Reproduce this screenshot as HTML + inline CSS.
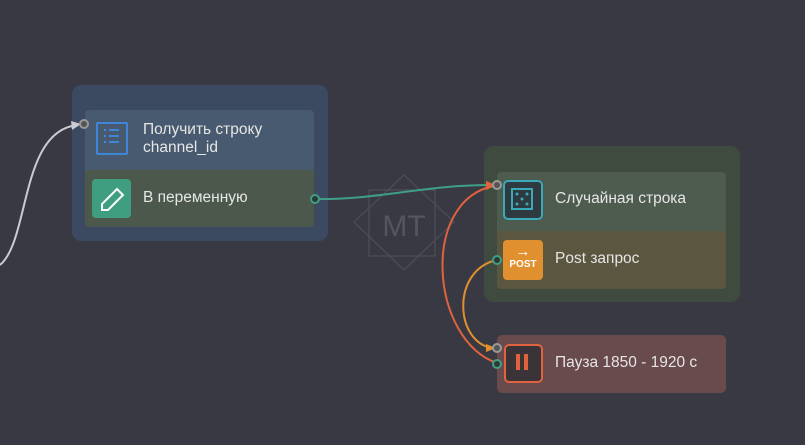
<!DOCTYPE html>
<html><head><meta charset="utf-8"><style>
body{margin:0;width:805px;height:445px;background:#393943;overflow:hidden;position:relative;font-family:"Liberation Sans","DejaVu Sans",sans-serif;}
.a{position:absolute;}
.t{position:absolute;color:#e6e6e6;font-size:15.5px;line-height:18px;}
</style></head><body>
<div class="a" style="left:72px;top:85px;width:256px;height:156px;background:#3b4a61;border-radius:9px;"></div>
<div class="a" style="left:85px;top:110px;width:229px;height:60px;background:#485a6f;border-radius:4px 4px 0 0;"></div>
<div class="a" style="left:85px;top:170px;width:229px;height:57px;background:#4c584c;border-radius:0 0 4px 4px;"></div>
<div class="a" style="left:96px;top:122px;width:28px;height:29px;border:2px solid #3f86d8;border-radius:2px;"></div>
<div class="a" style="left:92px;top:179px;width:39px;height:39px;background:#3f9e80;border-radius:4px;"></div>
<div class="t" style="left:143px;top:121px;">Получить строку<br>channel_id</div>
<div class="t" style="left:143px;top:189px;">В переменную</div>

<div class="a" style="left:484px;top:146px;width:256px;height:156px;background:#3f4b3e;border-radius:9px;"></div>
<div class="a" style="left:497px;top:172px;width:229px;height:59px;background:#4e5c50;border-radius:4px 4px 0 0;"></div>
<div class="a" style="left:497px;top:231px;width:229px;height:58px;background:#5b5640;border-radius:0 0 4px 4px;"></div>
<div class="a" style="left:503px;top:180px;width:36px;height:36px;border:2px solid #3aa9b8;background:#2f3a40;border-radius:5px;"></div>
<div class="a" style="left:503px;top:240px;width:40px;height:40px;background:#e0902e;border-radius:4px;color:#fff;font-size:10px;font-weight:bold;text-align:center;line-height:12px;"><div style="font-size:15px;margin-top:5px;line-height:14px;">→</div>POST</div>
<div class="t" style="left:555px;top:190px;">Случайная строка</div>
<div class="t" style="left:555px;top:250px;">Post запрос</div>

<div class="a" style="left:497px;top:335px;width:229px;height:58px;background:#694a4d;border-radius:5px;"></div>
<div class="a" style="left:504px;top:344px;width:35px;height:35px;border:2px solid #e0633e;background:#3a3438;border-radius:5px;"></div>
<div class="a" style="left:516px;top:354px;width:4px;height:16px;background:#e0633e;"></div>
<div class="a" style="left:524px;top:354px;width:4px;height:16px;background:#e0633e;"></div>
<div class="t" style="left:555px;top:354px;">Пауза 1850 - 1920 с</div>

<svg class="a" style="left:0;top:0" width="805" height="445">
<g stroke="#4e4e5a" fill="none" stroke-width="1.2">
<polygon points="404,175 454,222 404,270 354,222"/>
<rect x="369" y="190" width="66" height="66"/>
</g>
<text x="404" y="236" text-anchor="middle" font-family="Liberation Sans" font-size="30" fill="#55555f">MT</text>
<g fill="none" stroke-width="2">
<path d="M0,265 C30,240 20,130 78,125" stroke="#c9ccd2"/>
<path d="M315,199 C380,200 420,185 492,185" stroke="#3f9e86"/>
<path d="M497,363 C430,340 420,200 494,186" stroke="#e0633e"/>
<path d="M497,260 C450,270 455,345 494,348" stroke="#e0902e"/>
</g>
<polygon points="71,121 81,124 72,130" fill="#c9ccd2"/>
<polygon points="486,181 496,185 486,190" fill="#e0633e"/>
<polygon points="486,344 496,348 486,352" fill="#e0902e"/>
<g stroke-width="2">
<circle cx="84" cy="124" r="4" fill="#555" stroke="#999"/>
<circle cx="315" cy="199" r="4" fill="#2d3a34" stroke="#3f9e86"/>
<circle cx="497" cy="185" r="4" fill="#555" stroke="#999"/>
<circle cx="497" cy="260" r="4" fill="#2d3a34" stroke="#3f9e86"/>
<circle cx="497" cy="348" r="4" fill="#555" stroke="#999"/>
<circle cx="497" cy="364" r="4" fill="#2d3a34" stroke="#3f9e86"/>
</g>
<g stroke="#3f86d8" stroke-width="2"><line x1="104" y1="130" x2="106" y2="130"/><line x1="109" y1="130" x2="119" y2="130"/><line x1="104" y1="136" x2="106" y2="136"/><line x1="109" y1="136" x2="119" y2="136"/><line x1="104" y1="142" x2="106" y2="142"/><line x1="109" y1="142" x2="119" y2="142"/></g>
<path d="M102,210 L102,204 L117,189 L123,195 L108,210 Z" fill="none" stroke="#fff" stroke-width="2"/>
<rect x="512" y="189" width="20" height="20" fill="none" stroke="#3aa9b8" stroke-width="2"/>
<g fill="#3aa9b8"><circle cx="517" cy="194" r="1.5"/><circle cx="527" cy="194" r="1.5"/><circle cx="522" cy="199" r="1.5"/><circle cx="517" cy="204" r="1.5"/><circle cx="527" cy="204" r="1.5"/></g>
</svg>
</body></html>
